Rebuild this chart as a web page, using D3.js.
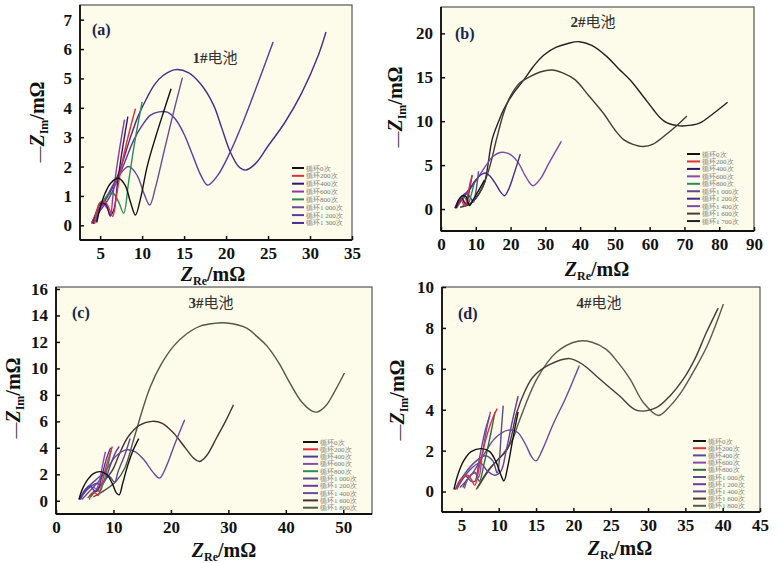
<!DOCTYPE html>
<html><head><meta charset="utf-8">
<script src="https://cdn.jsdelivr.net/npm/d3@7"></script>
<style>
body{margin:0;background:#fff;}
svg{display:block;}
</style></head>
<body>
<svg id="chart" width="780" height="563"></svg>
<script>
// ---------- DATA ----------
const legendA = ["循环0次","循环200次","循环400次","循环600次","循环800次","循环1 000次","循环1 200次","循环1 300次"];
const legendB = ["循环0次","循环200次","循环400次","循环600次","循环800次","循环1 000次","循环1 200次","循环1 400次","循环1 600次","循环1 700次"];
const legendCD = ["循环0次","循环200次","循环400次","循环600次","循环800次","循环1 000次","循环1 200次","循环1 400次","循环1 600次","循环1 800次"];

const colorsA = ["#111111","#e0303a","#2a1870","#8a3aa0","#2e8a5a","#6a4a9a","#5a3aa0","#4a2a8a"];
const colorsB = ["#111111","#e0303a","#2a1870","#8a4aa8","#2e8a5a","#5a4a90","#4a2a88","#7a4aa8","#4a3a3a","#222222"];
const colorsC = ["#111111","#e0303a","#4a3a9a","#8a4aa8","#2e8a5a","#5a4a90","#6a3aa8","#6a4a9a","#4a3030","#505848"];
const colorsD = ["#111111","#e0303a","#5a4aa0","#8a4aa8","#2e6a4a","#5a4a90","#6a3aa8","#6a4a9a","#4a3a3a","#5a5a50"];

const xTicksA = [5,10,15,20,25,30,35], yTicksA = [0,1,2,3,4,5,6,7];
const xTicksB = [0,10,20,30,40,50,60,70,80,90], yTicksB = [0,5,10,15,20];
const xTicksC = [0,10,20,30,40,50], yTicksC = [0,2,4,6,8,10,12,14,16];
const xTicksD = [5,10,15,20,25,30,35,40,45], yTicksD = [0,2,4,6,8,10];

// panel (a) series [Z_Re, -Z_Im]
const a0 = [[4.6,0.1],[5.0,0.6],[5.6,1.1],[6.3,1.45],[7.2,1.6],[8.0,1.35],[8.6,0.8],[9.2,0.35],[9.8,0.9],[10.6,2.0],[11.6,3.0],[12.6,3.9],[13.45,4.65]];
const a200 = [[4.3,0.05],[4.6,0.5],[5.0,0.78],[5.6,0.8],[6.1,0.55],[6.5,0.3],[7.0,1.1],[7.6,2.1],[8.4,3.1],[9.2,3.97]];
const a400 = [[4.2,0.05],[4.6,0.5],[5.1,0.75],[5.7,0.7],[6.2,0.35],[6.6,0.5],[7.1,1.5],[7.6,2.5],[8.3,3.7]];
const a600 = [[4.5,0.1],[4.9,0.5],[5.4,0.7],[5.9,0.55],[6.2,0.3],[6.6,1.2],[7.2,2.4],[7.9,3.6]];
const a800 = [[4.4,0.1],[5.0,0.6],[5.8,1.0],[6.5,1.1],[7.2,0.8],[7.8,0.41],[8.4,1.5],[9.1,2.8],[10.0,4.2]];
const a1000 = [[4.0,0.1],[5.0,0.6],[6.0,1.1],[7.0,1.6],[8.4,2.0],[9.4,1.7],[10.2,1.1],[10.9,0.69],[11.6,1.3],[12.6,2.5],[13.7,3.8],[14.8,5.03]];
const a1200 = [[4.0,0.1],[5.0,0.5],[6.0,0.9],[7.0,1.5],[8.0,2.2],[9.0,2.9],[10.0,3.4],[11.0,3.75],[12.0,3.86],[13.0,3.85],[14.0,3.6],[15.0,3.1],[16.0,2.4],[17.0,1.7],[17.8,1.37],[19.0,1.7],[20.5,2.5],[22.0,3.5],[24.0,5.0],[25.6,6.24]];
const a1300 = [[4.0,0.05],[4.5,0.4],[5.5,0.8],[6.5,1.3],[7.5,2.0],[8.5,2.9],[9.5,3.7],[10.5,4.3],[11.5,4.8],[12.5,5.1],[14.0,5.3],[15.5,5.2],[17.0,4.8],[18.5,4.1],[19.5,3.3],[20.5,2.5],[21.5,2.0],[22.3,1.88],[23.5,2.1],[25.0,2.7],[27.0,3.5],[29.0,4.5],[31.0,5.8],[31.9,6.58]];

// panel (b)
const b0 = [[4.2,0.1],[5.0,1.0],[6.0,1.5],[7.2,1.4],[8.2,0.4],[9.0,0.9],[10.5,1.9],[12.5,3.3]];
const b200 = [[4.0,0.1],[4.8,0.8],[5.6,1.2],[6.4,0.6],[6.9,0.3],[7.6,1.4],[8.4,2.8],[9.0,3.9]];
const b400 = [[4.3,0.1],[5.2,0.9],[6.0,1.2],[6.8,0.7],[7.3,0.5],[8.0,1.8],[8.9,3.8]];
const b600 = [[4.6,0.2],[5.4,1.0],[6.3,1.1],[7.0,0.5],[7.7,1.6],[8.5,3.2]];
const b800 = [[4.5,0.1],[5.5,1.0],[6.8,1.3],[7.8,0.6],[8.6,1.5],[9.6,3.0]];
const b1000 = [[4.0,0.1],[5.5,1.2],[7.2,1.8],[8.5,1.3],[9.3,0.8],[10.0,1.9],[10.8,4.3]];
const b1200 = [[4.3,0.2],[6.0,1.2],[8.0,2.2],[10.0,3.3],[11.5,3.9],[12.7,4.1],[14.0,3.8],[15.5,3.0],[17.2,1.9],[18.3,1.52],[19.5,2.3],[21.0,4.0],[22.8,6.25]];
const b1400 = [[4.6,0.2],[6.5,1.3],[9.0,2.6],[11.0,3.8],[13.0,5.0],[15.0,6.0],[17.0,6.44],[19.5,6.3],[22.0,5.4],[24.5,3.6],[26.4,2.65],[28.5,3.4],[31.0,5.2],[34.6,7.7]];
const b1600 = [[5.5,0.2],[8.0,0.5],[10.0,1.2],[12.0,2.5],[14.0,4.8],[16.0,8.0],[18.0,10.9],[19.9,12.8],[22.5,14.3],[25.7,15.1],[28.5,15.6],[31.9,15.83],[35.0,15.5],[38.6,14.7],[42.5,12.9],[46.7,10.9],[50.0,9.0],[52.5,7.9],[55.0,7.4],[58.2,7.12],[61.0,7.4],[64.0,8.26],[67.5,9.4],[70.7,10.6]];
const b1700 = [[6.0,0.3],[8.5,0.6],[10.5,1.5],[12.5,3.0],[14.7,7.9],[16.5,9.9],[18.0,11.3],[20.5,13.0],[23.8,14.7],[26.5,16.2],[29.5,17.5],[33.0,18.4],[36.5,18.85],[39.8,19.05],[43.5,18.6],[47.7,17.35],[51.0,16.0],[54.4,14.7],[58.0,12.9],[61.1,11.3],[63.0,10.4],[65.0,9.8],[68.6,9.47],[72.0,9.55],[74.5,9.8],[78.4,10.9],[82.4,12.16]];

// panel (c)
const c0 = [[4.0,0.1],[4.6,0.9],[5.5,1.6],[6.5,2.05],[7.7,2.2],[8.8,2.0],[9.8,1.3],[10.5,0.6],[11.0,0.45],[11.6,1.3],[12.5,2.7],[13.4,3.8],[14.4,4.7]];
const c200 = [[5.8,0.1],[6.2,0.5],[6.8,0.6],[7.3,0.4],[7.8,1.0],[8.6,2.4],[9.3,3.4],[9.8,4.1]];
const c400 = [[4.2,0.1],[5.0,0.8],[6.0,1.1],[6.8,0.7],[7.3,0.8],[8.0,1.9],[8.8,3.2],[9.5,4.0]];
const c600 = [[4.3,0.1],[5.2,0.9],[6.2,1.2],[7.0,0.9],[7.6,1.6],[8.2,2.9],[8.6,3.7]];
const c800 = [[5.5,0.2],[6.3,0.6],[7.0,0.8],[7.6,0.7],[8.2,1.3],[8.9,2.4],[9.6,3.8]];
const c1000 = [[4.0,0.1],[5.5,1.0],[7.0,1.6],[8.3,2.0],[9.4,1.8],[10.2,1.4],[10.8,2.2],[12.0,3.5],[12.9,4.7]];
const c1200 = [[4.3,0.2],[5.6,0.9],[7.0,1.3],[8.0,1.2],[8.6,1.6],[9.4,2.6],[10.3,3.6],[11.0,4.1]];
const c1400 = [[4.5,0.1],[6.0,0.8],[7.5,1.5],[9.0,2.5],[10.5,3.4],[12.3,3.85],[13.8,3.7],[15.3,3.1],[16.8,2.2],[18.0,1.71],[19.2,2.6],[20.6,4.2],[22.4,6.12]];
const c1600 = [[6.0,0.3],[8.0,1.3],[9.8,2.3],[11.0,3.5],[12.5,4.8],[14.5,5.7],[16.7,6.0],[18.5,5.85],[20.5,5.1],[22.5,4.0],[24.0,3.2],[25.0,2.97],[26.2,3.4],[28.0,4.8],[29.5,6.0],[30.9,7.25]];
const c1800 = [[6.5,0.3],[8.5,0.8],[10.5,1.5],[12.0,2.5],[13.5,4.6],[15.0,6.8],[16.4,8.6],[18.3,10.3],[20.5,11.7],[22.7,12.6],[25.1,13.2],[27.5,13.4],[29.7,13.43],[33.2,13.05],[35.0,12.4],[36.7,11.7],[38.8,10.4],[40.7,8.9],[42.7,7.5],[44.5,6.8],[45.4,6.7],[47.0,7.2],[48.3,8.1],[50.2,9.65]];

// panel (d)
const d0 = [[4.0,0.1],[4.5,0.8],[5.3,1.5],[6.3,1.95],[7.7,2.1],[8.8,1.95],[9.7,1.4],[10.3,0.8],[10.7,0.52],[11.2,1.2],[11.9,2.6],[12.6,3.9]];
const d200 = [[4.4,0.1],[5.0,0.6],[5.8,0.8],[6.4,0.55],[6.8,0.3],[7.4,1.2],[8.3,2.6],[9.2,3.6],[9.8,4.05]];
const d400 = [[4.2,0.1],[4.9,0.6],[5.6,0.75],[6.3,0.5],[6.8,0.5],[7.4,1.6],[8.2,3.0],[8.8,3.7]];
const d600 = [[5.4,0.15],[6.0,0.7],[6.8,0.9],[7.3,0.7],[7.8,1.8],[8.4,3.1],[8.9,3.9]];
const d800 = [[5.2,0.2],[6.0,0.7],[6.8,0.95],[7.4,0.5],[8.0,1.3],[8.8,2.6],[9.5,3.9]];
const d1000 = [[4.2,0.1],[5.5,0.9],[7.0,1.5],[8.2,1.75],[9.2,1.5],[9.8,0.9],[10.1,1.6],[10.35,3.0],[10.6,4.2]];
const d1200 = [[4.5,0.2],[6.0,1.0],[7.5,1.4],[8.5,1.0],[9.5,0.8],[10.3,1.0],[11.0,2.0],[11.8,3.4],[12.6,4.67]];
const d1400 = [[4.8,0.2],[6.5,0.9],[8.0,1.8],[9.5,2.6],[11.25,3.0],[12.5,2.9],[13.6,2.3],[14.4,1.7],[15.0,1.5],[15.8,2.0],[17.3,3.3],[19.0,4.6],[20.8,6.16]];
const d1600 = [[7.0,0.1],[8.5,1.0],[10.0,1.6],[11.2,2.1],[12.4,3.85],[13.5,4.9],[14.6,5.6],[16.8,6.2],[19.5,6.5],[21.3,6.2],[23.1,5.64],[26.2,4.67],[28.5,3.97],[31.1,4.1],[33.0,4.7],[34.7,5.48],[36.3,6.5],[37.8,7.76],[39.4,8.97]];
const d1800 = [[7.2,0.2],[9.0,1.2],[10.5,1.8],[11.8,2.5],[12.8,3.5],[15.1,5.5],[17.7,6.8],[20.6,7.35],[22.5,7.3],[24.4,6.95],[26.0,6.3],[27.6,5.5],[29.4,4.34],[31.4,3.72],[33.0,4.2],[34.7,5.0],[36.3,6.0],[37.9,7.1],[40.1,9.17]];

// ---------- PANELS ----------
const panels = [
  {tag:"(a)", title:"1#", box:[80,352,5,240], xd:[2.6,35], yd:[-0.5,7.5], xt:xTicksA, yt:yTicksA,
   series:[a0,a200,a400,a600,a800,a1000,a1200,a1300], colors:colorsA, legend:legendA,
   leg:{x:292,y:168,dy:7.85,len:12}, tagPos:[92,35], titlePos:[215,63],
   xl:[213,281], yl:[44,122]},
  {tag:"(b)", title:"2#", box:[441,754,7,231], xd:[0,90], yd:[-2.5,23], xt:xTicksB, yt:yTicksB,
   series:[b0,b200,b400,b600,b800,b1000,b1200,b1400,b1600,b1700], colors:colorsB, legend:legendB,
   leg:{x:687,y:154,dy:7.45,len:13}, tagPos:[455,39], titlePos:[593,27],
   xl:[597,276], yl:[402,107]},
  {tag:"(c)", title:"3#", box:[56,372,287,514], xd:[0,55], yd:[-1,16.15], xt:xTicksC, yt:yTicksC,
   series:[c0,c200,c400,c600,c800,c1000,c1200,c1400,c1600,c1800], colors:colorsC, legend:legendCD,
   leg:{x:303,y:442,dy:7.3,len:15}, tagPos:[72,318], titlePos:[211,308],
   xl:[224,557], yl:[20,398]},
  {tag:"(d)", title:"4#", box:[442,760,287,512], xd:[2.4,45], yd:[-1,10], xt:xTicksD, yt:yTicksD,
   series:[d0,d200,d400,d600,d800,d1000,d1200,d1400,d1600,d1800], colors:colorsD, legend:legendCD,
   leg:{x:693,y:441,dy:7.2,len:13}, tagPos:[458,319], titlePos:[599,308],
   xl:[620,555], yl:[404,400]}
];

const svg = d3.select("#chart");
const serif = "'Liberation Serif','Times New Roman',serif";

panels.forEach(p => {
  const [L,R,T,B] = p.box;
  const x = d3.scaleLinear().domain(p.xd).range([L,R]);
  const y = d3.scaleLinear().domain(p.yd).range([B,T]);
  const g = svg.append("g");

  g.append("rect").attr("x",L).attr("y",T).attr("width",R-L).attr("height",B-T)
    .attr("fill","#fdfbe9").attr("stroke","#555").attr("stroke-width",1.2);

  const line = d3.line().x(d=>x(d[0])).y(d=>y(d[1])).curve(d3.curveCatmullRom.alpha(0.5));
  const order = d3.range(p.series.length).reverse();
  order.forEach(i => {
    g.append("path").datum(p.series[i]).attr("d",line)
      .attr("fill","none").attr("stroke",p.colors[i]).attr("stroke-width",1.4)
      .attr("stroke-linejoin","round");
  });

  // axes
  const xa = d3.axisBottom(x).tickValues(p.xt).tickSize(-4).tickPadding(7).tickFormat(d3.format("d"));
  const ya = d3.axisLeft(y).tickValues(p.yt).tickSize(-4).tickPadding(8).tickFormat(d3.format("d"));
  const gx = g.append("g").attr("transform",`translate(0,${B})`).call(xa);
  const gy = g.append("g").attr("transform",`translate(${L},0)`).call(ya);
  [gx,gy].forEach(ax => {
    ax.select(".domain").attr("stroke","#111").attr("stroke-width",1.8);
    ax.selectAll(".tick line").attr("stroke","#111").attr("stroke-width",1.5);
    ax.selectAll(".tick text").attr("font-family",serif).attr("font-weight","bold")
      .attr("font-size",17).attr("fill","#111");
  });
  gx.select(".domain").attr("d",`M${L},0H${R}`);
  gy.select(".domain").attr("d",`M0,${T}V${B}`);

  // panel tag
  g.append("text").attr("x",p.tagPos[0]).attr("y",p.tagPos[1]).text(p.tag)
    .attr("font-family",serif).attr("font-weight","bold").attr("font-size",16).attr("fill","#1c2350");

  // title
  const t = g.append("text").attr("x",p.titlePos[0]).attr("y",p.titlePos[1]).attr("text-anchor","middle")
    .attr("font-size",15).attr("fill","#333");
  t.append("tspan").text(p.title).attr("font-family",serif).attr("font-weight","bold");
  t.append("tspan").text("电池").attr("font-family","'Noto Sans CJK SC',sans-serif");

  // x label
  const xl = g.append("text").attr("x",p.xl[0]).attr("y",p.xl[1]).attr("text-anchor","middle")
    .attr("font-family",serif).attr("font-weight","bold").attr("font-size",20).attr("fill","#111");
  xl.append("tspan").text("Z").attr("font-style","italic");
  xl.append("tspan").text("Re").attr("font-size",12).attr("dy",4);
  xl.append("tspan").text("/mΩ").attr("dy",-4);

  // y label
  const yl = g.append("text").attr("transform",`translate(${p.yl[0]},${p.yl[1]}) rotate(-90)`)
    .attr("text-anchor","middle").attr("font-family",serif).attr("font-weight","bold")
    .attr("font-size",20).attr("fill","#111");
  yl.append("tspan").text("—").attr("font-weight","normal").attr("font-size",16);
  yl.append("tspan").text("Z").attr("font-style","italic");
  yl.append("tspan").text("Im").attr("font-size",12).attr("dy",4);
  yl.append("tspan").text("/mΩ").attr("dy",-4);

  // legend
  const lg = g.append("g");
  p.legend.forEach((s,i) => {
    const yy = p.leg.y + i*p.leg.dy;
    lg.append("line").attr("x1",p.leg.x).attr("x2",p.leg.x+p.leg.len).attr("y1",yy).attr("y2",yy)
      .attr("stroke",p.colors[i]).attr("stroke-width",2);
    lg.append("text").attr("x",p.leg.x+p.leg.len+2).attr("y",yy+2.5).text(s)
      .attr("font-family",serif).attr("font-size",7).attr("fill","#777");
  });
});
</script>
</body></html>
